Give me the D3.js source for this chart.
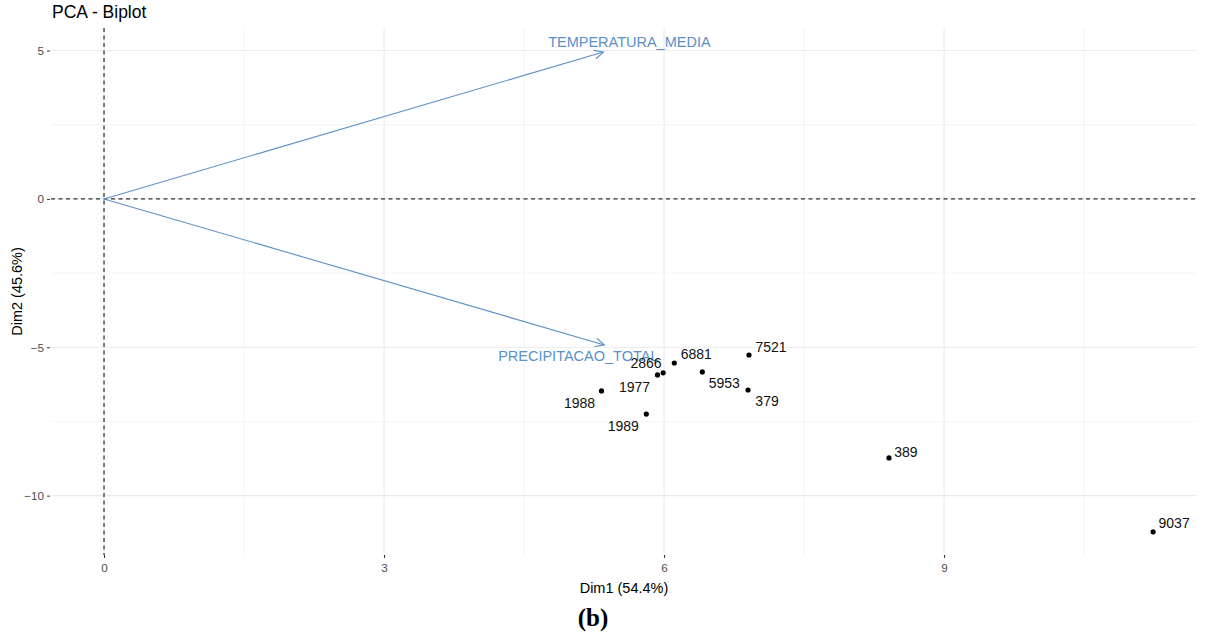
<!DOCTYPE html>
<html>
<head>
<meta charset="utf-8">
<script src="https://cdn.jsdelivr.net/npm/d3@7"></script>
<style>
  html, body { margin: 0; padding: 0; background: #fff; }
  svg { display: block; }
</style>
</head>
<body>
<svg id="chart" width="1210" height="639"></svg>
<script>
// Individuals (PCA scores on Dim1 / Dim2)
const ids  = ["9037", "389", "7521", "379", "5953", "6881", "2866", "1977", "1988", "1989"];
const dim1 = [11.24, 8.41, 6.91, 6.90, 6.41, 6.11, 5.99, 5.93, 5.33, 5.81];
const dim2 = [-11.22, -8.73, -5.26, -6.44, -5.83, -5.53, -5.86, -5.93, -6.47, -7.25];

// Variables (loadings scaled for the biplot)
const varNames = ["TEMPERATURA_MEDIA", "PRECIPITACAO_TOTAL"];
const varDim1  = [5.35, 5.36];
const varDim2  = [4.95, -4.92];

// Axis ticks
const xTicks = [0, 3, 6, 9];
const yTicks = [5, 0, -5, -10];
const xMinor = [1.5, 4.5, 7.5, 10.5];
const yMinor = [2.5, -2.5, -7.5];

// Label placement (pixel offsets from each mark, like a repel layout)
const pointLabelOffset = {
  "9037": [21, -9], "389": [17, -6], "7521": [22, -8], "379": [19, 11],
  "5953": [22, 11], "6881": [22, -9], "2866": [-17, -10], "1977": [-23, 12],
  "1988": [-22, 12], "1989": [-23, 12]
};
const varLabelOffset = { "TEMPERATURA_MEDIA": [26, -10], "PRECIPITACAO_TOTAL": [-26, 11] };

const svg = d3.select("#chart");
const panel = { left: 51, right: 1197, top: 28, bottom: 555 };

const x = d3.scaleLinear().domain([-0.568, 11.71]).range([panel.left, panel.right]);
const y = d3.scaleLinear().domain([-12.0, 5.76]).range([panel.bottom, panel.top]);

const font = "'Liberation Sans', Arial, sans-serif";
const varColor = "#5b90c8";

// Grid
const grid = svg.append("g");
grid.selectAll(".xminor").data(xMinor).join("line")
  .attr("x1", d => x(d)).attr("x2", d => x(d))
  .attr("y1", panel.top).attr("y2", panel.bottom)
  .attr("stroke", "#ededed").attr("stroke-width", 0.6);
grid.selectAll(".yminor").data(yMinor).join("line")
  .attr("y1", d => y(d)).attr("y2", d => y(d))
  .attr("x1", panel.left).attr("x2", panel.right)
  .attr("stroke", "#ededed").attr("stroke-width", 0.6);
grid.selectAll(".xmajor").data(xTicks).join("line")
  .attr("x1", d => x(d)).attr("x2", d => x(d))
  .attr("y1", panel.top).attr("y2", panel.bottom)
  .attr("stroke", "#ebebeb").attr("stroke-width", 1.1);
grid.selectAll(".ymajor").data(yTicks).join("line")
  .attr("y1", d => y(d)).attr("y2", d => y(d))
  .attr("x1", panel.left).attr("x2", panel.right)
  .attr("stroke", "#ebebeb").attr("stroke-width", 1.1);

// Axes
const xAxis = d3.axisBottom(x).tickValues(xTicks).tickSize(3).tickPadding(6).tickFormat(d3.format("d"));
const yAxis = d3.axisLeft(y).tickValues(yTicks).tickSize(3).tickPadding(3).tickFormat(d3.format("d"));

const gx = svg.append("g").attr("transform", `translate(0,${panel.bottom})`).call(xAxis);
const gy = svg.append("g").attr("transform", `translate(${panel.left - 1},0)`).call(yAxis);
[gx, gy].forEach(g => {
  g.select(".domain").remove();
  g.selectAll(".tick line").attr("stroke", "#333").attr("stroke-width", 1);
  g.selectAll(".tick text").attr("fill", "#4d4d4d")
    .style("font-family", font).style("font-size", "11.7px");
});

// Origin reference lines
svg.append("line")
  .attr("x1", x(0)).attr("x2", x(0)).attr("y1", panel.top).attr("y2", panel.bottom)
  .attr("stroke", "#000").attr("stroke-width", 1).attr("stroke-dasharray", "4,3.5");
svg.append("line")
  .attr("y1", y(0)).attr("y2", y(0)).attr("x1", panel.left).attr("x2", panel.right)
  .attr("stroke", "#000").attr("stroke-width", 1).attr("stroke-dasharray", "4,3.5");

// Variable arrows
const vars = varNames.map((n, i) => ({ name: n, d1: varDim1[i], d2: varDim2[i] }));
const arrows = svg.append("g");
vars.forEach(v => {
  const x0 = x(0), y0 = y(0), x1 = x(v.d1), y1 = y(v.d2);
  const ang = Math.atan2(y1 - y0, x1 - x0);
  const head = 10, spread = Math.PI / 7;
  arrows.append("line")
    .attr("x1", x0).attr("y1", y0).attr("x2", x1).attr("y2", y1)
    .attr("stroke", varColor).attr("stroke-width", 1.1);
  arrows.append("path")
    .attr("d", `M${x1 - head * Math.cos(ang - spread)},${y1 - head * Math.sin(ang - spread)}L${x1},${y1}L${x1 - head * Math.cos(ang + spread)},${y1 - head * Math.sin(ang + spread)}`)
    .attr("fill", "none").attr("stroke", varColor).attr("stroke-width", 1.1);
});
svg.append("g").selectAll("text").data(vars).join("text")
  .attr("x", d => x(d.d1) + varLabelOffset[d.name][0])
  .attr("y", d => y(d.d2) + varLabelOffset[d.name][1])
  .attr("dy", "0.35em")
  .attr("text-anchor", "middle")
  .attr("fill", varColor)
  .style("font-family", font).style("font-size", "14.5px")
  .text(d => d.name);

// Individuals
const pts = ids.map((id, i) => ({ id, d1: dim1[i], d2: dim2[i] }));
svg.append("g").selectAll("circle").data(pts).join("circle")
  .attr("cx", d => x(d.d1)).attr("cy", d => y(d.d2)).attr("r", 2.6).attr("fill", "#000");
svg.append("g").selectAll("text").data(pts).join("text")
  .attr("x", d => x(d.d1) + pointLabelOffset[d.id][0])
  .attr("y", d => y(d.d2) + pointLabelOffset[d.id][1])
  .attr("dy", "0.35em")
  .attr("text-anchor", "middle")
  .attr("fill", "#111")
  .style("font-family", font).style("font-size", "14px")
  .text(d => d.id);

// Titles
svg.append("text").attr("x", 52).attr("y", 18)
  .style("font-family", font).style("font-size", "17.5px").attr("fill", "#000")
  .text("PCA - Biplot");
svg.append("text").attr("x", (panel.left + panel.right) / 2).attr("y", 593)
  .attr("text-anchor", "middle")
  .style("font-family", font).style("font-size", "14.5px").attr("fill", "#000")
  .text("Dim1 (54.4%)");
svg.append("text")
  .attr("transform", `translate(22,${(panel.top + panel.bottom) / 2}) rotate(-90)`)
  .attr("text-anchor", "middle")
  .style("font-family", font).style("font-size", "14.5px").attr("fill", "#000")
  .text("Dim2 (45.6%)");

// Panel caption
svg.append("text").attr("x", 593).attr("y", 626)
  .attr("text-anchor", "middle")
  .style("font-family", "'Liberation Serif', 'Times New Roman', serif")
  .style("font-size", "25px").style("font-weight", "bold").attr("fill", "#000")
  .text("(b)");
</script>
</body>
</html>
